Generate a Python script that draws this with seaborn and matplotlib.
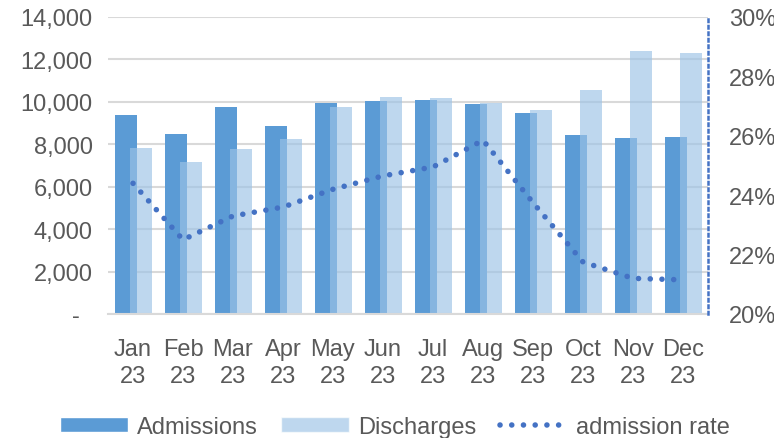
import matplotlib
matplotlib.use('agg')
import matplotlib.pyplot as plt
import seaborn as sns
import numpy as np
from matplotlib.ticker import FuncFormatter
from matplotlib.patches import Patch
from matplotlib.lines import Line2D

# Monthly values
months = ['Jan\n23', 'Feb\n23', 'Mar\n23', 'Apr\n23', 'May\n23', 'Jun\n23',
          'Jul\n23', 'Aug\n23', 'Sep\n23', 'Oct\n23', 'Nov\n23', 'Dec\n23']
admissions = [9400, 8490, 9760, 8860, 9950, 10040, 10090, 9900, 9480, 8440, 8300, 8350]
discharges = [7830, 7170, 7780, 8250, 9760, 10230, 10180, 9950, 9620, 10560, 12400, 12310]
admission_rate = [24.4, 22.5, 23.3, 23.6, 24.2, 24.65, 24.95, 25.85, 23.75, 21.75, 21.2, 21.15]

adm_color = '#5b9bd5'
dis_color = '#9dc3e6'
rate_color = '#4472c4'
text_color = '#595959'
dots = (0, (0.01, 2.1))
fs = 17

sns.set_theme(style='white')
plt.rcParams['font.family'] = ['Liberation Sans', 'DejaVu Sans']

fig = plt.figure(figsize=(7.74, 4.39), dpi=100)
ax = fig.add_axes([108 / 774, 1 - 315 / 439, 600 / 774, 297 / 439])

pos = np.arange(len(months))
sns.barplot(x=pos - 0.15, y=admissions, native_scale=True, width=0.44, color=adm_color,
            saturation=1, linewidth=0, errorbar=None, ax=ax)
sns.barplot(x=pos + 0.15, y=discharges, native_scale=True, width=0.44, color=dis_color,
            saturation=1, alpha=0.66, linewidth=0, errorbar=None, ax=ax)

ax.set_xlim(-0.5, 11.5)
ax.set_ylim(0, 14000)
ax.set_yticks(np.arange(0, 14001, 2000))
ax.yaxis.set_major_formatter(FuncFormatter(lambda v, p: '-  ' if v == 0 else f'{v:,.0f}'))
ax.set_xticks(pos)
ax.set_xticklabels(months, linespacing=1.3)
ax.yaxis.grid(True, color='#d9d9d9', linewidth=1.5)
ax.set_axisbelow(True)
for s in ['top', 'left', 'right']:
    ax.spines[s].set_visible(False)
ax.spines['bottom'].set_color('#d9d9d9')
ax.spines['bottom'].set_linewidth(1.5)
ax.tick_params(axis='y', length=0, pad=11, labelsize=fs, labelcolor=text_color)
ax.tick_params(axis='x', length=0, pad=17, labelsize=fs, labelcolor=text_color)
ax.set_xlabel('')
ax.set_ylabel('')

# admission rate on the secondary axis
ax2 = ax.twinx()
sns.lineplot(x=pos, y=admission_rate, ax=ax2, color=rate_color, linewidth=4.0,
             linestyle=dots, dash_capstyle='round')
ax2.set_ylim(20, 30)
ax2.set_yticks(np.arange(20, 31, 2))
ax2.yaxis.set_major_formatter(FuncFormatter(lambda v, p: f'{v:.0f}%'))
ax2.tick_params(axis='y', length=0, pad=15, labelsize=fs, labelcolor=text_color)
for s in ['top', 'left', 'bottom']:
    ax2.spines[s].set_visible(False)
ax2.spines['right'].set_color(rate_color)
ax2.spines['right'].set_linestyle((0, (1.0, 1.6)))
ax2.spines['right'].set_linewidth(1.8)
ax2.set_ylabel('')
ax2.set_xlim(-0.5, 11.5)

handles = [Patch(facecolor=adm_color, label='Admissions'),
           Patch(facecolor=dis_color, alpha=0.66, label='Discharges'),
           Line2D([], [], color=rate_color, lw=4.0, ls=dots, dash_capstyle='round',
                  label='admission rate')]
fig.legend(handles=handles, loc='center', bbox_to_anchor=(395 / 774, 1 - 428 / 439),
           ncol=3, frameon=False, fontsize=fs, handlelength=2.9, handleheight=0.6,
           handletextpad=0.35, columnspacing=1.0, labelcolor=text_color)

fig.savefig('out.png', dpi=100)
